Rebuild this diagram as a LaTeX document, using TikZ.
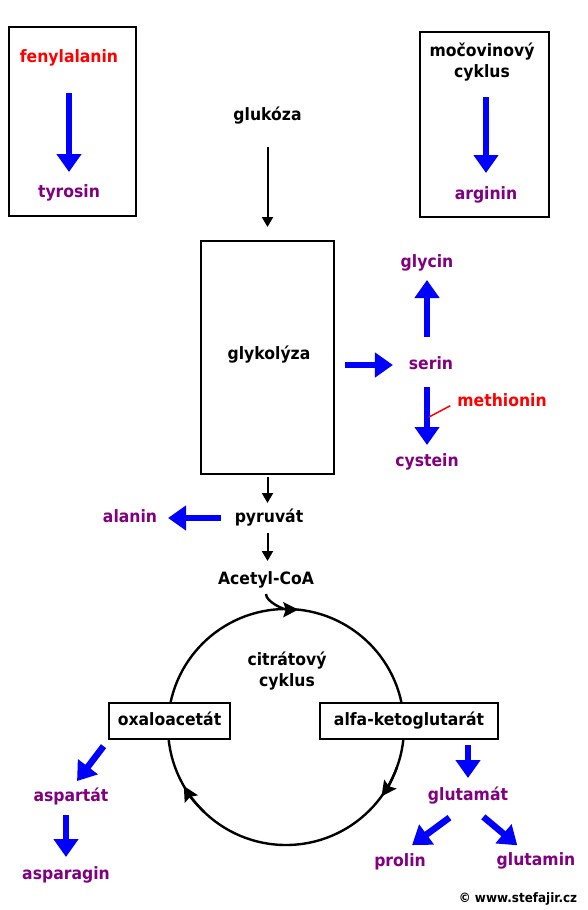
\documentclass[tikz,border=0pt]{standalone}
\usepackage{fontspec}
\setmainfont{DejaVu Sans}[FakeStretch=0.92]
\usetikzlibrary{arrows.meta}
\definecolor{purp}{RGB}{128,0,128}
\definecolor{bl}{RGB}{0,0,255}
\definecolor{rd}{RGB}{255,0,0}
\begin{document}
\begin{tikzpicture}[x=1pt,y=-1pt,
  txt/.style={font=\fontsize{17}{21}\selectfont\bfseries, inner sep=0pt, outer sep=0pt, text height=12pt, text depth=4pt},
  aa/.style={txt, text=purp},
  red/.style={txt, text=rd},
  box/.style={draw, line width=2.5pt, inner sep=0pt, outer sep=0pt, fill=white},
  barrow/.style={draw=bl, line width=6.5pt, -{Triangle[width=24pt,length=18pt]}},
  karrow/.style={draw, line width=2pt, -{Triangle[width=11pt,length=10pt]}},
  carrow/.style={draw, line width=2.4pt, -{Stealth[width=15pt,length=15pt,inset=2.5pt]}}
]
\fill[white] (0,0) rectangle (587,910);
\useasboundingbox (0,0) rectangle (587,910);

% top-left box
\node[box, fill=none, minimum width=127pt, minimum height=189pt] (boxA) at (72.5,121.5) {};
\node[red] (fen) at (69,58) {fenylalanin};
\node[aa] (tyrosin) at (69,193) {tyrosin};
\draw[barrow, shorten <=27pt, shorten >=13pt] (fen.south) -- (tyrosin.north);

% top-right box
\node[box, fill=none, minimum width=129pt, minimum height=185pt] (boxB) at (484.5,124.5) {};
\node[txt] (moc1) at (482,52) {močovinový};
\node[txt] (moc2) at (482,73) {cyklus};
\node[aa] (arginin) at (486,195) {arginin};
\draw[barrow, shorten <=16pt, shorten >=14pt] (moc2.south -| arginin.north) -- (arginin.north);

% glycolysis
\node[txt] (glukoza) at (267.5,116) {glukóza};
\node[box, minimum width=133pt, minimum height=233pt] (glyk) at (267.5,357.5) {};
\node[txt] (glyktxt) at (269,355) {glykolýza};
\draw[karrow, shorten <=23pt, shorten >=14pt] (glukoza.south) -- (glyk.north);

% serine branch
\node[aa] (serin) at (431,365) {serin};
\node[aa] (glycin) at (427,263) {glycin};
\node[aa] (cystein) at (427,462) {cystein};
\node[red] (methionin) at (502,402) {methionin};
\coordinate (metpt) at (429,417);
\draw[barrow, shorten <=11pt, shorten >=16pt] (glyk.east |- serin.west) -- (serin.west);
\draw[barrow, shorten <=20pt, shorten >=9pt] (serin.north -| glycin.south) -- (glycin.south);
\draw[barrow, shorten <=14pt, shorten >=9pt] (serin.south -| cystein.north) -- (cystein.north);
\draw[rd, line width=1.5pt, shorten <=8pt] (methionin.west) -- (metpt);

% pyruvate
\node[txt] (pyruvat) at (269,518) {pyruvát};
\node[aa] (alanin) at (130,518) {alanin};
\node[txt] (acetyl) at (266,580) {Acetyl-CoA};
\draw[karrow, shorten <=3pt, shorten >=7pt] (glyk.south) -- (glyk.south |- pyruvat.north);
\draw[karrow, shorten <=7pt, shorten >=11pt] (glyk.south |- pyruvat.south) -- (glyk.south |- acetyl.north);
\draw[barrow, shorten <=14pt, shorten >=11pt] (pyruvat.west) -- (alanin.east);

% citrate cycle
\node[draw, circle, line width=2.4pt, minimum size=236pt, inner sep=0pt, outer sep=0pt] (cyc) at (286,727) {};
\node[txt] (cit1) at (287,661) {citrátový};
\node[txt] (cit2) at (287,682) {cyklus};
\draw[carrow, shorten <=6pt] (acetyl.south) .. controls +(0,14) and +(-14,0) .. (cyc.84);
\draw[carrow] (cyc.-20) arc[start angle=20, end angle=36, radius=118];
\draw[carrow] (cyc.-134) arc[start angle=134, end angle=150, radius=118];

\node[box, txt, draw, minimum width=121pt, minimum height=36pt, text height=12pt, text depth=4pt] (oxalo) at (169.5,721) {oxaloacetát};
\node[box, txt, draw, minimum width=178pt, minimum height=36pt, text height=12pt, text depth=4pt] (alfa) at (409,721) {alfa-ketoglutarát};

% aspartate branch
\node[aa] (aspartat) at (71,797) {aspartát};
\node[aa] (asparagin) at (66,875) {asparagin};
\draw[barrow, shorten <=9pt, shorten >=10pt] (oxalo.south west) -- (aspartat.north);
\draw[barrow, shorten <=10pt, shorten >=10pt] (asparagin.north |- aspartat.south) -- (asparagin.north);

% glutamate branch
\node[aa] (glutamat) at (468,796) {glutamát};
\node[aa] (prolin) at (400,862) {prolin};
\node[aa] (glutamin) at (536,861) {glutamin};
\draw[barrow, shorten <=6pt, shorten >=10pt] (alfa.south -| glutamat.north) -- (glutamat.north);
\draw[barrow, shorten <=23pt, shorten >=15pt] (glutamat.south) -- (prolin.north);
\draw[barrow, shorten <=20pt, shorten >=12pt] (glutamat.south) -- (glutamin.140);

\node[font=\fontsize{13}{15}\selectfont\bfseries, inner sep=0pt] (copy) at (518,899) {© www.stefajir.cz};
\end{tikzpicture}
\end{document}
